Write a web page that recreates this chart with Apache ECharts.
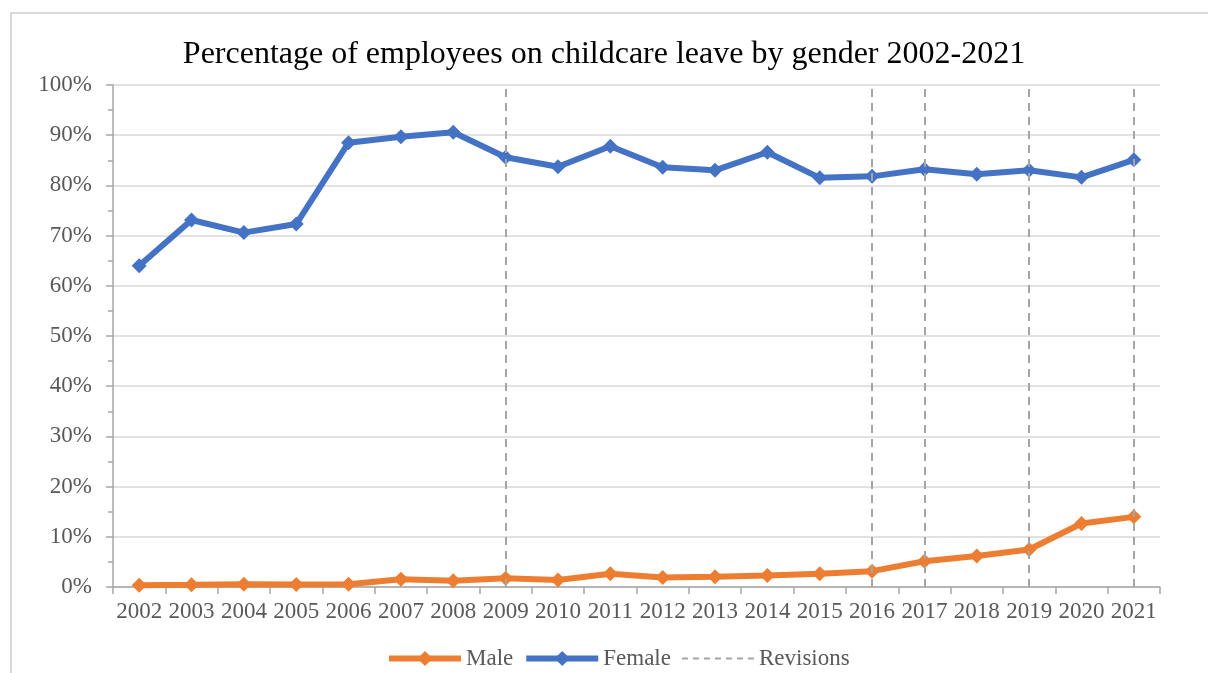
<!DOCTYPE html>
<html>
<head>
<meta charset="utf-8">
<script src="https://cdn.jsdelivr.net/npm/echarts@6/dist/echarts.min.js"></script>
<style>
html,body{margin:0;padding:0;background:#fff;}
#chart{width:1208px;height:673px;}
</style>
</head>
<body>
<div id="chart"></div>
<script>
var years = ['2002','2003','2004','2005','2006','2007','2008','2009','2010','2011','2012','2013','2014','2015','2016','2017','2018','2019','2020','2021'];
var male = [0.33, 0.44, 0.56, 0.50, 0.57, 1.56, 1.23, 1.72, 1.38, 2.63, 1.89, 2.03, 2.30, 2.65, 3.16, 5.14, 6.16, 7.48, 12.65, 13.97];
var female = [64.0, 73.1, 70.6, 72.3, 88.5, 89.7, 90.6, 85.6, 83.7, 87.8, 83.6, 83.0, 86.6, 81.5, 81.8, 83.2, 82.2, 83.0, 81.6, 85.1];
var revisionYears = ['2009','2016','2017','2019','2021'];
var yTicks = [0, 100, 10];

var FONT = "'Liberation Serif', 'Times New Roman', serif";
var chart = echarts.init(document.getElementById('chart'));
chart.setOption({
  animation: false,
  backgroundColor: '#fff',
  graphic: [{
    type: 'rect', silent: true,
    shape: {x: 11, y: 13, width: 1210, height: 700},
    style: {fill: 'none', stroke: '#D9D9D9', lineWidth: 2}
  }],
  title: {
    text: 'Percentage of employees on childcare leave by gender 2002-2021',
    left: 'center', top: 34,
    textStyle: {fontFamily: FONT, fontSize: 32, fontWeight: 'normal', color: '#000'}
  },
  legend: {
    bottom: -2, left: 381,
    itemWidth: 72, itemHeight: 19, itemGap: 10,
    textStyle: {fontFamily: FONT, fontSize: 23, color: '#595959'},
    data: [
      {name: 'Male', lineStyle: {width: 6}},
      {name: 'Female', lineStyle: {width: 6}},
      {name: 'Revisions', lineStyle: {width: 2}, itemStyle: {opacity: 0}}
    ]
  },
  grid: {left: 113, right: 48, top: 85, bottom: 86, containLabel: false},
  xAxis: {
    type: 'category', data: years, boundaryGap: true,
    axisLine: {lineStyle: {color: '#A6A6A6', width: 1.5}},
    axisTick: {show: true, length: 7, interval: 0, lineStyle: {color: '#A6A6A6', width: 1.5}},
    axisLabel: {interval: 0, margin: 13, fontFamily: FONT, fontSize: 23, color: '#595959'},
    splitLine: {show: false}
  },
  yAxis: {
    type: 'value', min: yTicks[0], max: yTicks[1], interval: yTicks[2],
    axisLine: {show: true, lineStyle: {color: '#A6A6A6', width: 1.5}},
    axisTick: {show: true, length: 7, lineStyle: {color: '#A6A6A6', width: 1.5}},
    minorTick: {show: true, splitNumber: 2, length: 5, lineStyle: {color: '#A6A6A6', width: 1.5}},
    axisLabel: {margin: 21, formatter: '{value}%', fontFamily: FONT, fontSize: 23, color: '#595959'},
    splitLine: {show: true, lineStyle: {color: '#D9D9D9', width: 1.5}}
  },
  series: [
    {
      name: 'Male', type: 'line', data: male,
      symbol: 'diamond', symbolSize: 15,
      lineStyle: {color: '#ED7D31', width: 6},
      itemStyle: {color: '#ED7D31'},
      z: 3
    },
    {
      name: 'Female', type: 'line', data: female,
      symbol: 'diamond', symbolSize: 15,
      lineStyle: {color: '#4472C4', width: 6},
      itemStyle: {color: '#4472C4'},
      z: 3
    },
    {
      name: 'Revisions', type: 'line',
      data: years.map(function(){ return null; }),
      symbol: 'none',
      lineStyle: {color: '#A5A5A5', width: 2, type: [6, 5]},
      itemStyle: {color: '#A5A5A5'},
      z: 2,
      markLine: {
        silent: true, symbol: ['none', 'none'],
        label: {show: false},
        lineStyle: {color: '#A5A5A5', width: 2, type: [8, 6]},
        data: revisionYears.map(function(y){ return {xAxis: y}; })
      }
    }
  ]
});
</script>
</body>
</html>
